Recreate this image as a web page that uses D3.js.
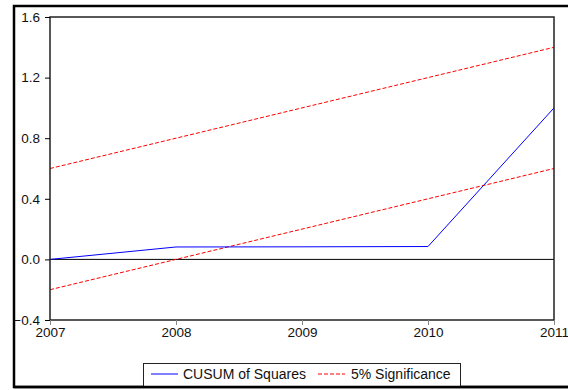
<!DOCTYPE html>
<html><head><meta charset="utf-8">
<script src="https://cdn.jsdelivr.net/npm/d3@7"></script>
<style>html,body{margin:0;padding:0;background:#fff;}svg{display:block;}</style>
</head><body>
<svg id="c" width="568" height="390"></svg>
<script>
const years = [2007, 2008, 2009, 2010, 2011];
const cusum = [0.0, 0.082, 0.083, 0.085, 1.0];
const upper = [0.6, 0.8, 1.0, 1.2, 1.4];
const lower = [-0.2, 0.0, 0.2, 0.4, 0.6];
const yTicks = [-0.4, 0.0, 0.4, 0.8, 1.2, 1.6];
const seriesNames = ["CUSUM of Squares", "5% Significance"];

const svg = d3.select("#c");
const font = "'Liberation Sans', Arial, Helvetica, sans-serif";
const L = 50, R = 554, T = 17, B = 320;
const x = d3.scaleLinear().domain([2007, 2011]).range([L, R]);
const y = d3.scaleLinear().domain([-0.4, 1.6]).range([B, T]);

// outer frame
svg.append("rect").attr("x", 14).attr("y", 6).attr("width", 556).attr("height", 381)
  .attr("fill", "none").attr("stroke", "#000").attr("stroke-width", 2.5);

// zero line
svg.append("line").attr("x1", L).attr("x2", R).attr("y1", y(0)).attr("y2", y(0))
  .attr("stroke", "#000").attr("stroke-width", 1);

const line = d3.line().x((d, i) => x(years[i])).y(d => y(d));

svg.append("path").datum(upper).attr("d", line).attr("fill", "none")
  .attr("stroke", "#ff0000").attr("stroke-width", 1).attr("stroke-dasharray", "4,2");
svg.append("path").datum(lower).attr("d", line).attr("fill", "none")
  .attr("stroke", "#ff0000").attr("stroke-width", 1).attr("stroke-dasharray", "4,2");
svg.append("path").datum(cusum).attr("d", line).attr("fill", "none")
  .attr("stroke", "#0000ff").attr("stroke-width", 1);

// plot frame
svg.append("rect").attr("x", L).attr("y", T).attr("width", R - L).attr("height", B - T)
  .attr("fill", "none").attr("stroke", "#222").attr("stroke-width", 1.5);

// axes
const yAxis = d3.axisLeft(y).tickValues(yTicks).tickFormat(d3.format(".1f")).tickSize(5).tickPadding(5);
const gy = svg.append("g").attr("transform", `translate(${L},0)`).call(yAxis);
gy.select(".domain").remove();
gy.selectAll("text").attr("font-family", font).attr("font-size", "13.5px").attr("fill", "#111");
gy.selectAll("line").attr("stroke", "#000");

const xAxis = d3.axisBottom(x).tickValues(years).tickFormat(d3.format("d")).tickSize(5).tickPadding(2);
const gx = svg.append("g").attr("transform", `translate(0,${B})`).call(xAxis);
gx.select(".domain").remove();
gx.selectAll("text").attr("font-family", font).attr("font-size", "13.5px").attr("fill", "#111");
gx.selectAll("line").attr("stroke", "#888");

// legend
const lg = svg.append("g");
lg.append("rect").attr("x", 143.5).attr("y", 363.5).attr("width", 317).attr("height", 24)
  .attr("fill", "#fff").attr("stroke", "#222").attr("stroke-width", 1);
const ly = 374;
lg.append("line").attr("x1", 151).attr("x2", 178).attr("y1", ly).attr("y2", ly)
  .attr("stroke", "#0000ff").attr("stroke-width", 1);
lg.append("text").attr("x", 183).attr("y", ly + 5).text(seriesNames[0])
  .attr("font-family", font).attr("font-size", "14px").attr("fill", "#111");
lg.append("line").attr("x1", 318).attr("x2", 345).attr("y1", ly).attr("y2", ly)
  .attr("stroke", "#ff0000").attr("stroke-width", 1).attr("stroke-dasharray", "4,2");
lg.append("text").attr("x", 351).attr("y", ly + 5).text(seriesNames[1])
  .attr("font-family", font).attr("font-size", "14px").attr("fill", "#111");
// redraw bottom frame edge over legend
svg.append("line").attr("x1", 14).attr("x2", 568).attr("y1", 387).attr("y2", 387)
  .attr("stroke", "#000").attr("stroke-width", 2.5);
</script>
</body></html>
